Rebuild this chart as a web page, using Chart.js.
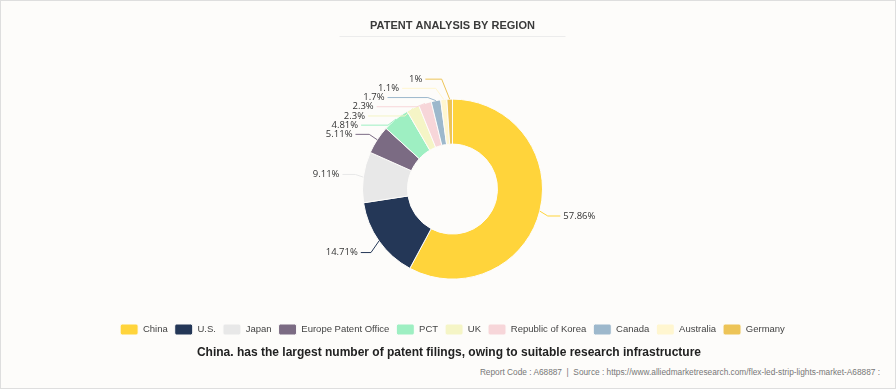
<!DOCTYPE html>
<html>
<head>
<meta charset="utf-8">
<script src="https://cdn.jsdelivr.net/npm/chart.js@4"></script>
<style>
  html, body { margin: 0; padding: 0; background: #fff; }
  #wrap {
    position: relative; width: 896px; height: 389px; box-sizing: border-box;
    border: 1px solid #dedede; background: #fdfcfa; overflow: hidden;
  }
  #chart { position: absolute; left: 0; top: 0; }
  #note {
    position: absolute; left: 0; width: 896px; top: 343px; text-align: center;
    font: bold 12px "Liberation Sans", Arial, sans-serif; color: #222; line-height: 16px;
  }
  #src {
    position: absolute; right: 15px; top: 366px;
    font: 8.3px "Liberation Sans", Arial, sans-serif; color: #777; line-height: 10px;
  }
</style>
</head>
<body>
<div id="wrap">
  <canvas id="chart" width="896" height="344"></canvas>
  <div id="note">China. has the largest number of patent filings, owing to suitable research infrastructure</div>
  <div id="src">Report Code : A68887 &nbsp;|&nbsp; Source : https://www.alliedmarketresearch.com/flex-led-strip-lights-market-A68887 :</div>
</div>
<script>
const regions = ['China', 'U.S.', 'Japan', 'Europe Patent Office', 'PCT', 'UK', 'Republic of Korea', 'Canada', 'Australia', 'Germany'];
const shares = [57.86, 14.71, 9.11, 5.11, 4.81, 2.3, 2.3, 1.7, 1.1, 1];
const colores = ['#FFD43B', '#243757', '#E8E8E8', '#7B6B83', '#9EEFC2', '#F5F5C6', '#F7D6D9', '#9DB8CC', '#FFF6D0', '#EDC457'];

// linha cinza abaixo do titulo
const tituloLinha = {
  id: 'tituloLinha',
  afterDraw(chart) {
    const t = chart.titleBlock;
    if (!t) return;
    const ctx = chart.ctx;
    const mid = (chart.chartArea.left + chart.chartArea.right) / 2;
    ctx.save();
    ctx.strokeStyle = '#ececec';
    ctx.lineWidth = 1;
    ctx.beginPath();
    ctx.moveTo(mid - 113, 35.5);
    ctx.lineTo(mid + 113, 35.5);
    ctx.stroke();
    ctx.restore();
  }
};

// rotulos externos com linhas guia
const rotulos = {
  id: 'rotulos',
  afterDatasetsDraw(chart) {
    const meta = chart.getDatasetMeta(0);
    const ctx = chart.ctx;
    const arcs = meta.data;
    const cx = arcs[0].x, cy = arcs[0].y, R = arcs[0].outerRadius;
    const itens = arcs.map((arc, i) => {
      const mid = (arc.startAngle + arc.endAngle) / 2;
      return {
        i, left: Math.cos(mid) < 0,
        px: cx + Math.cos(mid) * R, py: cy + Math.sin(mid) * R,
        y: cy + Math.sin(mid) * (R + 20)
      };
    });
    [true, false].forEach(lado => {
      const grupo = itens.filter(it => it.left === lado).sort((a, b) => a.y - b.y);
      for (let k = 1; k < grupo.length; k++) {
        if (grupo[k].y < grupo[k - 1].y + 9.2) grupo[k].y = grupo[k - 1].y + 9.2;
      }
    });
    ctx.save();
    ctx.font = '9.5px "Open Sans", "Liberation Sans", sans-serif';
    ctx.textBaseline = 'middle';
    ctx.lineWidth = 1;
    itens.forEach(it => {
      const dy = it.y - cy;
      const dx = Math.sqrt(Math.max(0, (R + 24) * (R + 24) - dy * dy));
      const tx = it.left ? cx - dx : cx + dx;
      const ex = it.left ? Math.max(it.px - 8, tx + 6) : Math.min(it.px + 8, tx - 6);
      ctx.strokeStyle = colores[it.i];
      ctx.beginPath();
      ctx.moveTo(it.left ? tx + 3 : tx - 3, it.y);
      ctx.lineTo(ex, it.y);
      ctx.lineTo(it.px, it.py);
      ctx.stroke();
      ctx.fillStyle = '#333';
      ctx.textAlign = it.left ? 'right' : 'left';
      ctx.fillText(shares[it.i] + '%', tx, it.y);
    });
    ctx.restore();
  }
};

new Chart(document.getElementById('chart'), {
  type: 'doughnut',
  data: {
    labels: regions,
    datasets: [{
      data: shares,
      backgroundColor: colores,
      borderColor: '#fdfcfa',
      borderWidth: 1,
      radius: 90,
      cutout: '50%'
    }]
  },
  options: {
    responsive: false,
    animation: false,
    layout: { padding: { left: 7, right: 0 } },
    plugins: {
      title: {
        display: true,
        text: 'PATENT ANALYSIS BY REGION',
        color: '#3a3a3a',
        font: { family: '"Liberation Sans", Arial, sans-serif', size: 11, weight: 'bold' },
        padding: { top: 18, bottom: 29 }
      },
      legend: {
        position: 'bottom',
        labels: {
          boxWidth: 18, boxHeight: 11, padding: 7,
          useBorderRadius: true, borderRadius: 2,
          color: '#444',
          font: { family: '"Liberation Sans", Arial, sans-serif', size: 9.5 }
        }
      },
      tooltip: { enabled: false }
    }
  },
  plugins: [tituloLinha, rotulos]
});
</script>
</body>
</html>
